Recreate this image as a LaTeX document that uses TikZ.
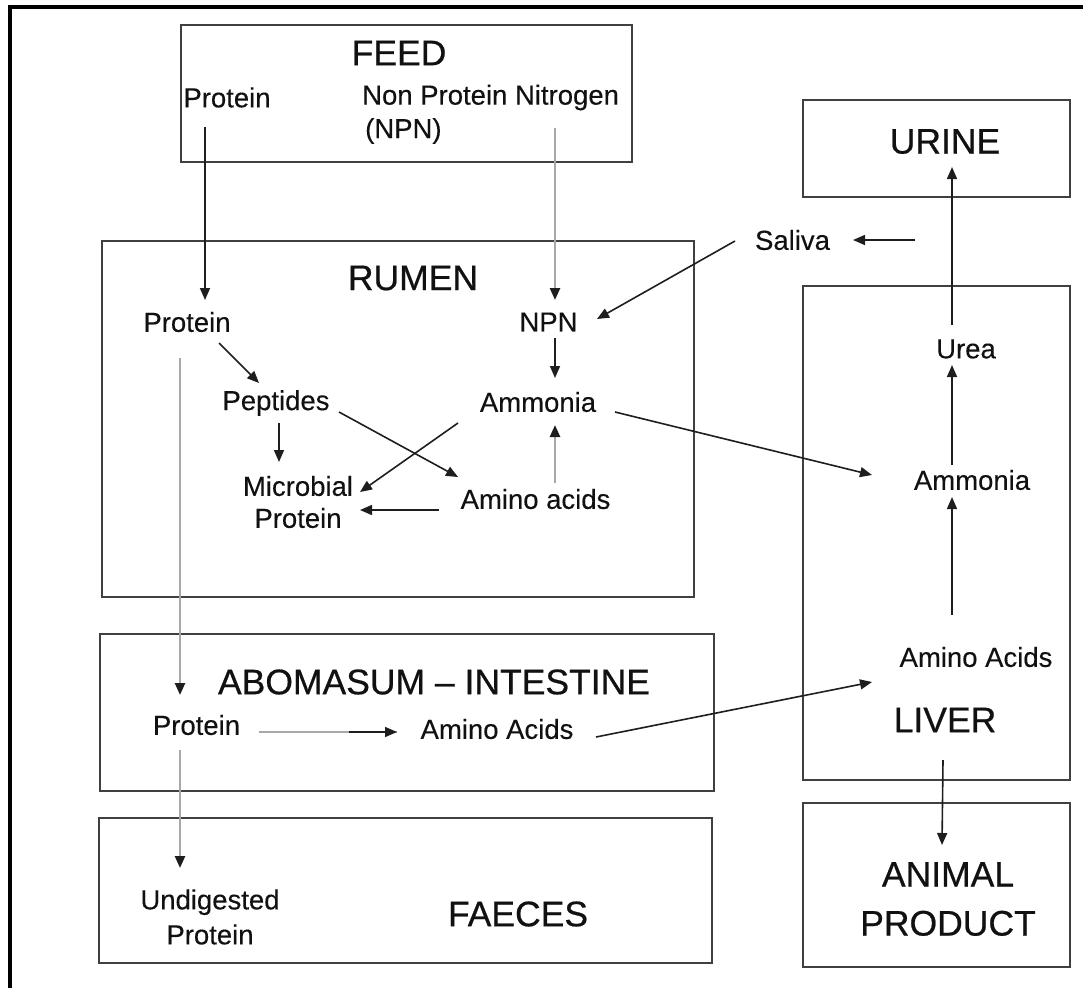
\documentclass[tikz,border=0pt]{standalone}
\usepackage{fontspec}
\setmainfont{Liberation Sans}
\newfontfamily\hdfont[FakeBold=0.6,Ligatures=TeX]{Liberation Sans}
\newfontfamily\lbfont[FakeBold=0.25,Ligatures=TeX]{Liberation Sans}
\usetikzlibrary{arrows.meta}
\definecolor{txt}{HTML}{111111}
\definecolor{boxc}{HTML}{404040}
\definecolor{greyl}{HTML}{A8A8A8}
\definecolor{arrc}{HTML}{1E1E1E}
\begin{document}
\begin{tikzpicture}[x=1pt,y=-1pt,
  box/.style={draw=boxc,line width=1.8pt,inner sep=0,outer sep=0},
  lbl/.style={font=\lbfont\fontsize{27.5}{32}\selectfont,text=txt,inner sep=0,align=center},
  hd/.style={font=\hdfont\fontsize{35.5}{49}\selectfont,text=txt,inner sep=0,align=center},
  arr/.style={-{Triangle[length=12pt,width=10pt]},line width=1.6pt,draw=arrc},
  gline/.style={line width=2.4pt,draw=greyl},
  garr/.style={-{Triangle[length=12pt,width=10pt,color=arrc]},line width=2.4pt,draw=greyl},
  frame/.style={line width=4pt,draw=black}]
\useasboundingbox (0,0) rectangle (1083,988);
% outer frame
\draw[frame] (10,988) -- (10,7) -- (1083,7);
% boxes
\node[box,minimum width=451pt,minimum height=137pt] (feedbox) at (406.5,93.5) {};
\node[box,minimum width=267pt,minimum height=97pt] (urinebox) at (936.5,148.5) {};
\node[box,minimum width=592pt,minimum height=356pt] (rumenbox) at (398,419) {};
\node[box,minimum width=267pt,minimum height=494pt] (liverbox) at (936.5,533) {};
\node[box,minimum width=614pt,minimum height=157pt] (abombox) at (407,712.5) {};
\node[box,minimum width=613pt,minimum height=145pt] (faecesbox) at (405.5,890.5) {};
\node[box,minimum width=267pt,minimum height=164pt] (animalbox) at (936.5,885) {};
% texts
\node[hd] (feed) at (399,53) {FEED};
\node[lbl] (fprot) at (227,97.5) {Protein};
\node[lbl,anchor=west] (fnpn) at (362,97.5) {Non Protein Nitrogen};
\node[lbl,anchor=west] (fnpn2) at (365,131) {(NPN)};
\node[hd] (urine) at (945,141.5) {URINE};
\node[hd] (rumen) at (413,278) {RUMEN};
\node[lbl] (rprot) at (187,322) {Protein};
\node[lbl] (rnpn) at (548.5,322) {NPN};
\node[lbl] (saliva) at (792.5,240) {Saliva};
\node[lbl] (pept) at (276,403) {Peptides};
\node[lbl] (ramm) at (538,402) {Ammonia};
\node[lbl] (micro) at (298,502) {Microbial\\Protein};
\node[lbl] (ramino) at (535.5,499) {Amino acids};
\node[lbl] (urea) at (966,349) {Urea};
\node[lbl] (lamm) at (972,480) {Ammonia};
\node[lbl] (lamino) at (976,657) {Amino Acids};
\node[hd] (liver) at (945,720) {LIVER};
\node[hd] (abom) at (434,682) {ABOMASUM – INTESTINE};
\node[lbl] (aprot) at (196.5,725) {Protein};
\node[lbl] (aamino) at (497,729) {Amino Acids};
\node[lbl,font=\lbfont\fontsize{27.5}{35}\selectfont] (undig) at (210,917) {Undigested\\Protein};
\node[hd] (faeces) at (518,914) {FAECES};
\node[hd] (animal) at (948,899) {ANIMAL\\PRODUCT};
\coordinate (salsrc) at (915,240);
% arrows
\draw[arr] ([shift={(-22,29.5)}]fprot.center) -- ([shift={(18,-22)}]rprot.center);
\draw[garr] ([shift={(193,30)}]fnpn.west) -- ([shift={(6.5,-22)}]rnpn.center);
\draw[arr] ([shift={(-14,-24)}]urea.center) -- ([shift={(7,25.5)}]urine.center);
\draw[arr] (salsrc) -- ([shift={(60.5,0)}]saliva.center);
\draw[arr] ([shift={(-57.5,1)}]saliva.center) -- ([shift={(48.5,-3)}]rnpn.center);
\draw[arr] ([shift={(32,21)}]rprot.center) -- ([shift={(-17,-20)}]pept.center);
\draw[arr] ([shift={(6.5,16)}]rnpn.center) -- ([shift={(17,-24)}]ramm.center);
\draw[arr] ([shift={(3,20)}]pept.center) -- ([shift={(-19,-40)}]micro.center);
\draw[arr] ([shift={(63,9)}]pept.center) -- ([shift={(-77.5,-22)}]ramino.center);
\draw[arr] ([shift={(-80,21)}]ramm.center) -- ([shift={(62,-10)}]micro.center);
\draw[arr] ([shift={(-96.5,11)}]ramino.center) -- ([shift={(62,8)}]micro.center);
\draw[garr] ([shift={(19.5,-16)}]ramino.center) -- ([shift={(17,23)}]ramm.center);
\draw[arr] ([shift={(77,10)}]ramm.center) -- ([shift={(-100,-5)}]lamm.center);
\draw[arr] ([shift={(-24,-42)}]lamino.center) -- ([shift={(-20,17)}]lamm.center);
\draw[arr] ([shift={(-20,-15)}]lamm.center) -- ([shift={(-14,16)}]urea.center);
\draw[garr] ([shift={(-7,36)}]rprot.center) -- ([shift={(-16.5,-30)}]aprot.center);
\draw[gline] ([shift={(62.5,7)}]aprot.center) -- coordinate[pos=0.65] (pamid) ([shift={(-100,3)}]aamino.center);
\draw[arr] (pamid) -- ([shift={(-100,3)}]aamino.center);
\draw[arr] ([shift={(99,8)}]aamino.center) -- ([shift={(-104,25)}]lamino.center);
\draw[garr] ([shift={(-16.5,25)}]aprot.center) -- ([shift={(-30,-49)}]undig.center);
\draw[arr] ([shift={(-2,40)}]liver.center) -- ([shift={(-6,-54)}]animal.center);
\end{tikzpicture}
\end{document}
